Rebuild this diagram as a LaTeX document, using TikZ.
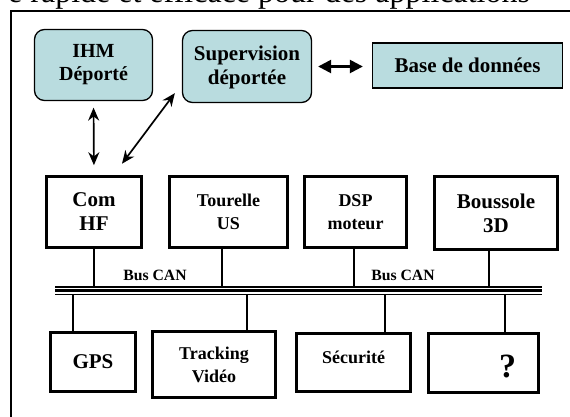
\documentclass[tikz,border=0pt]{standalone}
\usepackage{fontspec}
\setmainfont{Liberation Serif}
\usetikzlibrary{arrows.meta}
\definecolor{paleteal}{RGB}{185,220,223}
\tikzset{
  remote/.style={draw, line width=1.3pt, fill=paleteal, rounded corners=10pt,
    inner sep=0pt, align=center, font=\bfseries\fontsize{21}{24}\selectfont},
  dbbox/.style={draw, line width=1.3pt, fill=paleteal, inner sep=0pt,
    align=center, font=\bfseries\fontsize{21}{24}\selectfont},
  unit/.style={draw, line width=3.6pt, inner sep=0pt, align=center,
    font=\bfseries\fontsize{21}{24}\selectfont},
  smalltext/.style={font=\bfseries\fontsize{18}{23}\selectfont},
  link/.style={line width=1.7pt,
    {Stealth[length=13pt,width=11pt]}-{Stealth[length=13pt,width=11pt]}},
  heavylink/.style={line width=2.4pt,
    {Triangle[length=13pt,width=13pt]}-{Triangle[length=13pt,width=13pt]}},
  stub/.style={line width=1.4pt},
  busthin/.style={line width=1.2pt},
  busthick/.style={line width=2.6pt},
  buslabel/.style={inner sep=0pt, font=\bfseries\fontsize{15.7}{18}\selectfont},
}
\begin{document}
\begin{tikzpicture}[x=1pt,y=-1pt]
\useasboundingbox (0,0) rectangle (570,416);

% running text line above the frame
\node[anchor=base west, inner sep=0pt, font=\fontsize{32}{32}\selectfont]
  (caption) at (8,2) {e rapide et efficace pour des applications};

% frame
\draw[line width=2pt] (11,440) -- (11,10.5) -- (590,10.5);

% remote side
\node[remote, minimum width=118pt, minimum height=71pt,
  font=\bfseries\fontsize{20}{23}\selectfont] (ihm) at (93.5,65) {IHM\\Déporté};
\node[remote, minimum width=129pt, minimum height=72pt] (sup) at (247,66.5)
  {\rule{0pt}{16pt}Supervision\\déportée};
\node[dbbox, minimum width=190pt, minimum height=45pt] (base) at (467.5,65.5)
  {Base de données};

% units on the bus, top row
\node[unit, minimum width=95pt, minimum height=71pt] (com) at (94,212) {Com\\HF};
\node[unit, smalltext, minimum width=118pt, minimum height=71pt] (tour) at (228.5,212)
  {Tourelle\\US};
\node[unit, smalltext, minimum width=102pt, minimum height=71pt] (dsp) at (355.5,212)
  {DSP\\moteur};
\node[unit, minimum width=123pt, minimum height=73pt] (bous) at (496,213)
  {Boussole\\3D};

% units on the bus, bottom row
\node[unit, minimum width=85pt, minimum height=59pt] (gps) at (93,362) {GPS};
\node[unit, smalltext, minimum width=123pt, minimum height=66pt] (track) at (214,364.5)
  {Tracking\\Vidéo};
\node[unit, minimum width=114pt, minimum height=58pt,
  label={[smalltext, yshift=5pt]center:Sécurité}] (secu) at (353.5,362.5) {};
\node[unit, minimum width=110pt, minimum height=59pt,
  label={[font=\bfseries\fontsize{34}{36}\selectfont, xshift=24pt, yshift=-3pt]center:?}]
  (q) at (483.5,363) {};

% links between remote side and radio
\draw[link, shorten <=6.5pt, shorten >=9.5pt] (ihm.south) -- (com.north);
\draw[link] ([xshift=-7pt,yshift=10pt]sup.south west)
  -- ([xshift=28pt,yshift=11pt]com.north);
\draw[heavylink] ([xshift=6pt]sup.east) -- ([xshift=-9pt]base.west |- sup.east);

% CAN bus
\coordinate (busL) at (55,290.5);
\coordinate (busR) at (542,290.5);
\coordinate (busT) at (55,287);
\coordinate (busB) at (55,294.5);
\draw[busthin] (busT) -- (busT -| busR);
\draw[busthick] (busL) -- (busR);
\draw[busthin] (busB) -- (busB -| busR);

\node[buslabel] (can1) at (155,275) {Bus CAN};
\node[buslabel] (can2) at (403,275) {Bus CAN};

% taps from the units to the bus
\draw[stub] (com.south) -- (com.south |- busT);
\draw[stub] ([xshift=-6.5pt]tour.south) -- ([xshift=-6.5pt]tour.south |- busT);
\draw[stub] ([xshift=-1.5pt]dsp.south) -- ([xshift=-1.5pt]dsp.south |- busT);
\draw[stub] ([xshift=-7pt]bous.south) -- ([xshift=-7pt]bous.south |- busT);
\draw[stub] ([xshift=-20pt]gps.north) -- ([xshift=-20pt]gps.north |- busB);
\draw[stub] ([xshift=33pt]track.north) -- ([xshift=33pt]track.north |- busB);
\draw[stub] ([xshift=31.5pt]secu.north) -- ([xshift=31.5pt]secu.north |- busB);
\draw[stub] ([xshift=21.5pt]q.north) -- ([xshift=21.5pt]q.north |- busB);
\end{tikzpicture}
\end{document}
